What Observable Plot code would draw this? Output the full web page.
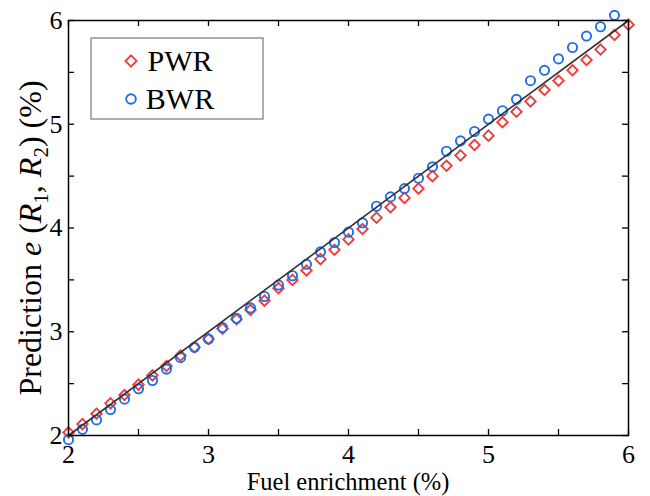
<!DOCTYPE html>
<html><head><meta charset="utf-8">
<script src="https://cdn.jsdelivr.net/npm/d3@7"></script>
<script src="https://cdn.jsdelivr.net/npm/@observablehq/plot@0.6"></script>
<style>html,body{margin:0;padding:0;background:#fff}</style>
</head><body><div id="chart"></div>
<script>
const enrichment = [2.0,2.1,2.2,2.3,2.4,2.5,2.6,2.7,2.8,2.9,3.0,3.1,3.2,3.3,3.4,3.5,3.6,3.7,3.8,3.9,4.0,4.1,4.2,4.3,4.4,4.5,4.6,4.7,4.8,4.9,5.0,5.1,5.2,5.3,5.4,5.5,5.6,5.7,5.8,5.9,6.0];
const pwr = [2.03,2.11,2.21,2.31,2.39,2.49,2.58,2.67,2.77,2.85,2.93,3.03,3.12,3.21,3.30,3.42,3.50,3.59,3.70,3.79,3.89,3.99,4.10,4.20,4.29,4.38,4.50,4.60,4.70,4.80,4.89,5.02,5.12,5.22,5.33,5.42,5.52,5.62,5.72,5.86,5.96];
const bwr = [1.96,2.06,2.15,2.25,2.35,2.45,2.53,2.64,2.75,2.85,2.93,3.04,3.13,3.23,3.34,3.45,3.54,3.65,3.77,3.86,3.96,4.05,4.21,4.30,4.38,4.48,4.59,4.74,4.84,4.93,5.05,5.13,5.24,5.42,5.52,5.63,5.74,5.85,5.94,6.05];
const seriesNames = ["PWR", "BWR"];
const xTicks = [2, 3, 4, 5, 6];
const yTicks = [2, 3, 4, 5, 6];
const minorTicks = [2, 2.5, 3, 3.5, 4, 4.5, 5, 5.5, 6];
const idealLine = [2, 6];
const xLabel = "Fuel enrichment (%)";

const W = 650, H = 496, mL = 68, mR = 22, mT = 20, mB = 61;
const plotW = W - mL - mR, plotH = H - mT - mB;
const font = "'Liberation Serif','Times New Roman',serif";
const RED = "#f03c3c", BLUE = "#1e6fe6";

const pwrData = pwr.map((v, i) => ({x: enrichment[i], y: v}));
const bwrData = bwr.map((v, i) => ({x: enrichment[i], y: v}));
const lineData = idealLine.map(v => ({x: v, y: v}));

const plot = Plot.plot({
  width: W, height: H,
  marginLeft: mL, marginRight: mR, marginTop: mT, marginBottom: mB,
  style: {fontFamily: font, fontSize: "26px", color: "#000", background: "#fff"},
  x: {domain: [2, 6]},
  y: {domain: [2, 6]},
  marks: [
    Plot.dot(pwrData, {x: "x", y: "y", symbol: "diamond2", r: 4.7, stroke: RED, strokeWidth: 1.9}),
    Plot.dot(bwrData, {x: "x", y: "y", symbol: "circle", r: 4.6, stroke: BLUE, strokeWidth: 1.9}),
    Plot.line(lineData, {x: "x", y: "y", stroke: "#333", strokeWidth: 1.6}),
    Plot.tickX(minorTicks, {x: d => d, stroke: "#000", strokeWidth: 1.3, insetTop: plotH - 6}),
    Plot.tickX(minorTicks, {x: d => d, stroke: "#000", strokeWidth: 1.3, insetBottom: plotH - 6}),
    Plot.tickY(minorTicks, {y: d => d, stroke: "#000", strokeWidth: 1.3, insetRight: plotW - 6}),
    Plot.tickY(minorTicks, {y: d => d, stroke: "#000", strokeWidth: 1.3, insetLeft: plotW - 6}),
    Plot.axisX(xTicks, {tickSize: 0, tickPadding: 9, label: null, tickFormat: d => String(d)}),
    Plot.axisY(yTicks, {tickSize: 0, tickPadding: 6, label: null, tickFormat: d => String(d)}),
    Plot.frame({stroke: "#000", strokeWidth: 1.5})
  ]
});

const svg = d3.select(plot);
svg.selectAll("text").style("font-size", "26px").style("font-family", font);

// x label
svg.append("text").attr("x", mL + plotW / 2).attr("y", 490)
  .attr("text-anchor", "middle").attr("font-family", font).attr("font-size", 24.5).attr("fill", "#000")
  .text(xLabel);
// y label with italics and subscripts
const yl = svg.append("text").attr("transform", "translate(41,238) rotate(-90)")
  .attr("text-anchor", "middle").attr("font-family", font).attr("font-size", 32).attr("fill", "#000");
yl.append("tspan").text("Prediction ");
yl.append("tspan").attr("font-style", "italic").text("e");
yl.append("tspan").text(" (");
yl.append("tspan").attr("font-style", "italic").text("R");
yl.append("tspan").attr("font-size", 21).attr("dy", 7).text("1");
yl.append("tspan").attr("dy", -7).text(", ");
yl.append("tspan").attr("font-style", "italic").text("R");
yl.append("tspan").attr("font-size", 21).attr("dy", 7).text("2");
yl.append("tspan").attr("dy", -7).text(") (%)");

// legend
const lg = svg.append("g");
lg.append("rect").attr("x", 91).attr("y", 38).attr("width", 172).attr("height", 81)
  .attr("fill", "#fff").attr("stroke", "#777").attr("stroke-width", 1.2);
const symArea = Math.PI * 5 * 5;
lg.append("path").attr("d", d3.symbol(d3.symbolDiamond2, symArea)()).attr("transform", "translate(131,61)")
  .attr("fill", "none").attr("stroke", RED).attr("stroke-width", 1.9);
lg.append("circle").attr("cx", 131).attr("cy", 99).attr("r", 4.8)
  .attr("fill", "none").attr("stroke", BLUE).attr("stroke-width", 1.9);
seriesNames.forEach((name, i) => {
  lg.append("text").attr("x", 180).attr("y", 71 + i * 38).attr("font-family", font)
    .attr("font-size", 30).attr("fill", "#000").text(name);
});

document.getElementById("chart").appendChild(plot);
</script>
</body></html>
